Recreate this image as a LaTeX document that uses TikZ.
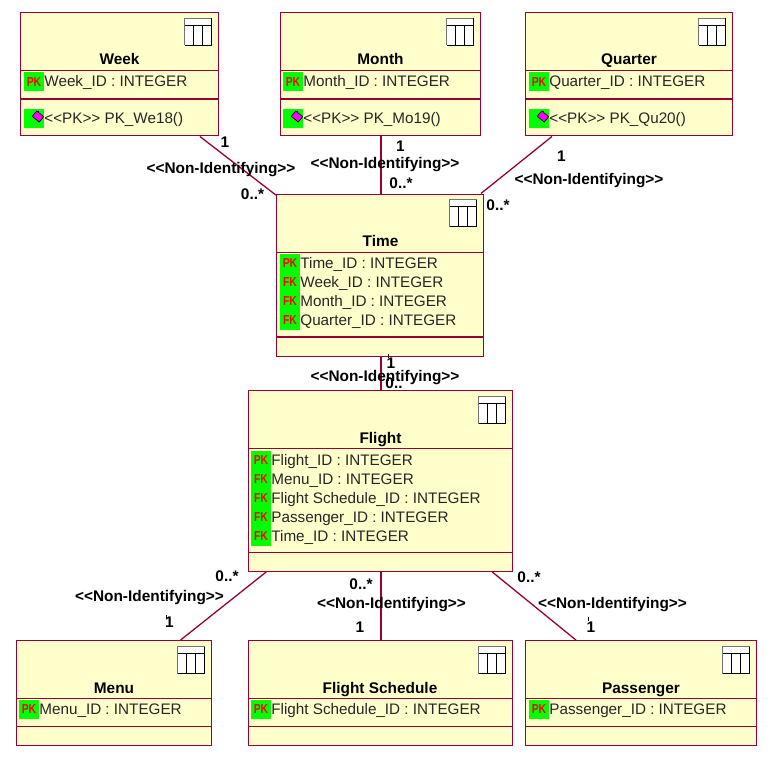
\documentclass[tikz,border=0pt]{standalone}
\usepackage{fontspec}
\setmainfont{Liberation Sans}
\newfontfamily\keyfont[FakeStretch=0.8,BoldFeatures={FakeStretch=0.8}]{Liberation Sans}
\usetikzlibrary{positioning}

\definecolor{rosered}{RGB}{153,0,51}
\definecolor{roseyellow}{RGB}{255,255,204}
\definecolor{lensmagenta}{RGB}{255,0,255}
\definecolor{badgegreen}{RGB}{0,255,0}

\begin{document}
\begin{tikzpicture}[x=1pt,y=-1pt,font=\fontsize{15.25}{18}\selectfont]
  \tikzstyle{tablebox}=[rectangle,draw=rosered,fill=roseyellow,line width=1pt,inner sep=0pt]
  \tikzstyle{tablename}=[inner sep=0pt,text height=11pt,text depth=1pt,font=\fontsize{15.4}{18}\selectfont\bfseries]
  \tikzstyle{attr}=[anchor=west,inner sep=0pt,text height=11pt,text depth=1pt,text=black!85]
  \tikzstyle{keybadge}=[rectangle,fill=badgegreen,text=red,inner sep=0pt,minimum width=20pt,minimum height=19pt,
                                    font=\keyfont\fontsize{13}{14}\selectfont\bfseries]
  \tikzstyle{opbadge}=[rectangle,fill=badgegreen,inner sep=0pt,minimum width=20pt,minimum height=19pt]
  \tikzstyle{oplens}=[rectangle,draw=black,fill=lensmagenta,rotate=-40,inner sep=0pt,line width=0.6pt,
                                    minimum width=9pt,minimum height=7pt]
  \tikzstyle{relation}=[draw=rosered,line width=1.3pt]
  \tikzstyle{relation_thick}=[draw=rosered,line width=2pt]
  \tikzstyle{tag}=[inner sep=0pt,text height=11pt,text depth=1pt,font=\fontsize{15.4}{18}\selectfont\bfseries]
  \tikzstyle{sepline}=[draw=rosered,line width=1pt]
  \tikzstyle{septhick}=[draw=rosered,line width=2pt]
  \path[use as bounding box,fill=white] (0,0) rectangle (774,765);

  %Tablas de arriba
  \node[tablebox,minimum width=198pt,minimum height=123pt] (Week) at (119.5,74.5) {};
  \node[tablebox,minimum width=200pt,minimum height=123pt] (Month) at (380.5,74.5) {};
  \node[tablebox,minimum width=207pt,minimum height=123pt] (Quarter) at (629,74.5) {};
  %Tablas centrales
  \node[tablebox,minimum width=207pt,minimum height=162pt] (Time) at (380,275) {};
  \node[tablebox,minimum width=264pt,minimum height=181pt] (Flight) at (380.5,481) {};
  %Tablas de abajo
  \node[tablebox,minimum width=195pt,minimum height=105pt] (Menu) at (114,693) {};
  \node[tablebox,minimum width=264pt,minimum height=105pt] (Schedule) at (380.5,693) {};
  \node[tablebox,minimum width=231pt,minimum height=105pt] (Passenger) at (641,693) {};

  %Relaciones
  \path[relation] (Week) -- (Time);
  \path[relation_thick] ([xshift=0.5pt]Month.south) -- ([xshift=1pt]Time.north);
  \path[relation] (Quarter) -- (Time);
  \path[relation_thick] ([xshift=1pt]Time.south) -- ([xshift=0.5pt]Flight.north);
  \path[relation] (Flight) -- (Menu);
  \path[relation_thick] ([xshift=0.5pt]Flight.south) -- ([xshift=0.5pt]Schedule.north);
  \path[relation] (Flight) -- (Passenger);

  %Separadores
  \foreach \xa/\xb/\ya in {20/219/70.5, 280/481/70.5, 525/733/70.5, 276/484/252.5, 248/513/448.5,
                           248/513/552.5, 16/212/698.5, 248/513/698.5, 525/757/698.5,
                           16/212/726.5, 248/513/726.5, 525/757/726.5}
    \path[sepline] (\xa,\ya) -- (\xb,\ya);
  \foreach \xa/\xb/\ya in {20/219/99, 280/481/99, 525/733/99, 276/484/337}
    \path[septhick] (\xa,\ya) -- (\xb,\ya);

  %Iconos de tabla
  \foreach \xa/\ya in {184.5/18.5, 446.5/18.5, 698.5/18.5, 449.5/199.5, 478.5/396.5, 177.5/646.5, 478.5/646.5, 722.5/646.5} {
    \fill[white] (\xa,\ya) rectangle (\xa+27,\ya+27);
    \draw[black!55,line width=0.8pt] (\xa,\ya+27) -- (\xa,\ya) -- (\xa+27,\ya);
    \draw[black,line width=1.2pt] (\xa+27,\ya) -- (\xa+27,\ya+27) -- (\xa,\ya+27);
    \draw[black,line width=0.8pt] (\xa,\ya+7) -- (\xa+27,\ya+7)
                    (\xa+9,\ya+7) -- (\xa+9,\ya+27)
                    (\xa+18,\ya+7) -- (\xa+18,\ya+27);
  }

  %Nombres
  \node[tablename] (WeekName) at (119.5,60) {Week};
  \node[tablename] (MonthName) at (380.5,60) {Month};
  \node[tablename] (QuarterName) at (629,60) {Quarter};
  \node[tablename] (TimeName) at (380.5,241) {Time};
  \node[tablename] (FlightName) at (380.5,438) {Flight};
  \node[tablename] (MenuName) at (114,688) {Menu};
  \node[tablename] (ScheduleName) at (380,688) {Flight Schedule};
  \node[tablename] (PassengerName) at (641,688) {Passenger};

  %Atributos
  \foreach \name/\kind/\xa/\ya/\txt in {
      a/PK/34/82/Week\_ID : INTEGER,
      b/PK/293/82/Month\_ID : INTEGER,
      c/PK/539/82/Quarter\_ID : INTEGER,
      d/PK/290/263.5/Time\_ID : INTEGER,
      e/FK/290/282.5/Week\_ID : INTEGER,
      f/FK/290/301.5/Month\_ID : INTEGER,
      g/FK/290/320.5/Quarter\_ID : INTEGER,
      h/PK/261/460/Flight\_ID : INTEGER,
      i/FK/261/479/Menu\_ID : INTEGER,
      j/FK/261/498/Flight Schedule\_ID : INTEGER,
      k/FK/261/517/Passenger\_ID : INTEGER,
      l/FK/261/536/Time\_ID : INTEGER,
      m/PK/29/709.5/Menu\_ID : INTEGER,
      n/PK/261/709.5/Flight Schedule\_ID : INTEGER,
      o/PK/539/709.5/Passenger\_ID : INTEGER} {
    \node[keybadge] (key\name) at (\xa,\ya) {\kind};
    \node[attr] (attr\name) [right=0pt of key\name] {\txt};
  }

  %Operaciones
  \foreach \name/\xa/\txt in {a/34/PK\_We18, b/293/PK\_Mo19, c/539/PK\_Qu20} {
    \node[opbadge] (op\name) at (\xa,119) {};
    \draw[black,line width=0.6pt] (\xa+4,111) -- (\xa+4,122);
    \node[oplens] (lens\name) at (\xa+4,116.5) {};
    \node[attr] (optext\name) [right=0pt of op\name] {<{}<PK>{}> \txt()};
  }

  %Etiquetas
  \node[tag] (n1) at (221,169) {<{}<Non-Identifying>{}>};
  \node[tag] (n2) at (385,163) {<{}<Non-Identifying>{}>};
  \node[tag] (n3) at (589,179) {<{}<Non-Identifying>{}>};
  \node[tag] (n4) at (385,376) {<{}<Non-Identifying>{}>};
  \node[tag] (n5) at (149.5,596) {<{}<Non-Identifying>{}>};
  \node[tag] (n6) at (391.5,603) {<{}<Non-Identifying>{}>};
  \node[tag] (n7) at (612.5,603) {<{}<Non-Identifying>{}>};
  \foreach \name/\xa/\ya in {u1/225/143, u2/400.5/147, u3/561.5/156, u4/391/363, u5/169.5/622, u6/360/627, u7/591/627}
    \node[tag] (\name) at (\xa,\ya) {1};
  \foreach \name/\xa/\ya in {m1/252.5/194, m2/401/184, m3/498/205, m5/227/576, m6/361/584, m7/529/577}
    \node[tag] (\name) at (\xa,\ya) {0..*};
  \node[tag] (m4) at (394,383) {0..};
  %Marcas junto a los unos
  \foreach \xa/\ya in {388/356, 166/617, 588/619}
    \draw[black,line width=0.7pt] (\xa,\ya-2) -- (\xa,\ya+2);
\end{tikzpicture}
\end{document}
